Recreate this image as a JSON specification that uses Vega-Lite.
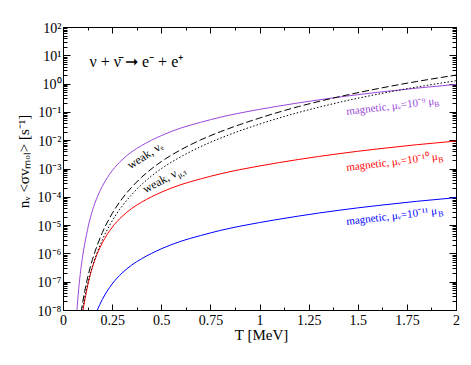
{
  "$schema": "https://vega.github.io/schema/vega-lite/v6.json",
  "width": 393,
  "height": 283,
  "autosize": {"type": "none"},
  "padding": {"left": 63, "top": 27, "right": 15, "bottom": 55},
  "background": "white",
  "config": {
    "view": {"stroke": "black", "strokeWidth": 1},
    "font": "Liberation Serif",
    "axis": {"domainColor": "black", "tickColor": "black", "labelColor": "black", "titleColor": "black", "labelFont": "Liberation Serif", "titleFont": "Liberation Serif", "grid": false, "titleFontWeight": "normal", "tickWidth": 1, "domainWidth": 1}
  },
  "datasets": {
    "curves": [
      {"s": "m9", "T": 0.07, "v": 7.94e-9}, {"s": "m9", "T": 0.075, "v": 2.24e-8}, {"s": "m9", "T": 0.08, "v": 5.62e-8}, {"s": "m9", "T": 0.09, "v": 2.51e-7}, {"s": "m9", "T": 0.1, "v": 7.94e-7}, {"s": "m9", "T": 0.11, "v": 2.09e-6}, {"s": "m9", "T": 0.12, "v": 4.79e-6}, {"s": "m9", "T": 0.13, "v": 1.0e-5}, {"s": "m9", "T": 0.14, "v": 1.91e-5}, {"s": "m9", "T": 0.15, "v": 3.31e-5}, {"s": "m9", "T": 0.175, "v": 1.0e-4}, {"s": "m9", "T": 0.2, "v": 2.34e-4}, {"s": "m9", "T": 0.25, "v": 8.32e-4}, {"s": "m9", "T": 0.3, "v": 2.0e-3}, {"s": "m9", "T": 0.35, "v": 3.89e-3}, {"s": "m9", "T": 0.4, "v": 6.46e-3}, {"s": "m9", "T": 0.5, "v": 1.45e-2}, {"s": "m9", "T": 0.6, "v": 2.69e-2}, {"s": "m9", "T": 0.7, "v": 4.27e-2}, {"s": "m9", "T": 0.8, "v": 6.46e-2}, {"s": "m9", "T": 0.9, "v": 9.12e-2}, {"s": "m9", "T": 1.0, "v": 0.123}, {"s": "m9", "T": 1.2, "v": 0.209}, {"s": "m9", "T": 1.4, "v": 0.331}, {"s": "m9", "T": 1.6, "v": 0.49}, {"s": "m9", "T": 1.8, "v": 0.692}, {"s": "m9", "T": 2.0, "v": 0.933},
      {"s": "m10", "T": 0.09, "v": 2.51e-9}, {"s": "m10", "T": 0.1, "v": 7.94e-9}, {"s": "m10", "T": 0.11, "v": 2.09e-8}, {"s": "m10", "T": 0.12, "v": 4.79e-8}, {"s": "m10", "T": 0.13, "v": 1.0e-7}, {"s": "m10", "T": 0.14, "v": 1.91e-7}, {"s": "m10", "T": 0.15, "v": 3.31e-7}, {"s": "m10", "T": 0.175, "v": 1.0e-6}, {"s": "m10", "T": 0.2, "v": 2.34e-6}, {"s": "m10", "T": 0.25, "v": 8.32e-6}, {"s": "m10", "T": 0.3, "v": 2.0e-5}, {"s": "m10", "T": 0.35, "v": 3.89e-5}, {"s": "m10", "T": 0.4, "v": 6.46e-5}, {"s": "m10", "T": 0.5, "v": 1.45e-4}, {"s": "m10", "T": 0.6, "v": 2.69e-4}, {"s": "m10", "T": 0.7, "v": 4.27e-4}, {"s": "m10", "T": 0.8, "v": 6.46e-4}, {"s": "m10", "T": 0.9, "v": 9.12e-4}, {"s": "m10", "T": 1.0, "v": 1.23e-3}, {"s": "m10", "T": 1.2, "v": 2.09e-3}, {"s": "m10", "T": 1.4, "v": 3.31e-3}, {"s": "m10", "T": 1.6, "v": 4.9e-3}, {"s": "m10", "T": 1.8, "v": 6.92e-3}, {"s": "m10", "T": 2.0, "v": 9.33e-3},
      {"s": "m11", "T": 0.15, "v": 3.31e-9}, {"s": "m11", "T": 0.175, "v": 1.0e-8}, {"s": "m11", "T": 0.2, "v": 2.34e-8}, {"s": "m11", "T": 0.25, "v": 8.32e-8}, {"s": "m11", "T": 0.3, "v": 2.0e-7}, {"s": "m11", "T": 0.35, "v": 3.89e-7}, {"s": "m11", "T": 0.4, "v": 6.46e-7}, {"s": "m11", "T": 0.5, "v": 1.45e-6}, {"s": "m11", "T": 0.6, "v": 2.69e-6}, {"s": "m11", "T": 0.7, "v": 4.27e-6}, {"s": "m11", "T": 0.8, "v": 6.46e-6}, {"s": "m11", "T": 0.9, "v": 9.12e-6}, {"s": "m11", "T": 1.0, "v": 1.23e-5}, {"s": "m11", "T": 1.2, "v": 2.09e-5}, {"s": "m11", "T": 1.4, "v": 3.31e-5}, {"s": "m11", "T": 1.6, "v": 4.9e-5}, {"s": "m11", "T": 1.8, "v": 6.92e-5}, {"s": "m11", "T": 2.0, "v": 9.33e-5},
      {"s": "we", "T": 0.085, "v": 3.69e-9}, {"s": "we", "T": 0.09, "v": 6.53e-9}, {"s": "we", "T": 0.1, "v": 1.8e-8}, {"s": "we", "T": 0.11, "v": 4.4e-8}, {"s": "we", "T": 0.12, "v": 9.6e-8}, {"s": "we", "T": 0.13, "v": 1.9e-7}, {"s": "we", "T": 0.14, "v": 3.5e-7}, {"s": "we", "T": 0.15, "v": 6.1e-7}, {"s": "we", "T": 0.175, "v": 2.0e-6}, {"s": "we", "T": 0.2, "v": 5.4e-6}, {"s": "we", "T": 0.25, "v": 2.55e-5}, {"s": "we", "T": 0.3, "v": 8.4e-5}, {"s": "we", "T": 0.35, "v": 2.2e-4}, {"s": "we", "T": 0.4, "v": 4.9e-4}, {"s": "we", "T": 0.5, "v": 1.75e-3}, {"s": "we", "T": 0.6, "v": 4.6e-3}, {"s": "we", "T": 0.7, "v": 1.02e-2}, {"s": "we", "T": 0.8, "v": 1.98e-2}, {"s": "we", "T": 0.9, "v": 3.55e-2}, {"s": "we", "T": 1.0, "v": 6.05e-2}, {"s": "we", "T": 1.2, "v": 0.155}, {"s": "we", "T": 1.4, "v": 0.337}, {"s": "we", "T": 1.6, "v": 0.659}, {"s": "we", "T": 1.8, "v": 1.186}, {"s": "we", "T": 2.0, "v": 1.995},
      {"s": "wm", "T": 0.085, "v": 2.2e-9}, {"s": "wm", "T": 0.09, "v": 3.9e-9}, {"s": "wm", "T": 0.1, "v": 1.07e-8}, {"s": "wm", "T": 0.11, "v": 2.6e-8}, {"s": "wm", "T": 0.12, "v": 5.6e-8}, {"s": "wm", "T": 0.13, "v": 1.1e-7}, {"s": "wm", "T": 0.14, "v": 2.0e-7}, {"s": "wm", "T": 0.15, "v": 3.45e-7}, {"s": "wm", "T": 0.175, "v": 1.12e-6}, {"s": "wm", "T": 0.2, "v": 3.0e-6}, {"s": "wm", "T": 0.25, "v": 1.4e-5}, {"s": "wm", "T": 0.3, "v": 4.6e-5}, {"s": "wm", "T": 0.35, "v": 1.2e-4}, {"s": "wm", "T": 0.4, "v": 2.7e-4}, {"s": "wm", "T": 0.5, "v": 9.8e-4}, {"s": "wm", "T": 0.6, "v": 2.6e-3}, {"s": "wm", "T": 0.7, "v": 5.9e-3}, {"s": "wm", "T": 0.8, "v": 1.17e-2}, {"s": "wm", "T": 0.9, "v": 2.15e-2}, {"s": "wm", "T": 1.0, "v": 3.7e-2}, {"s": "wm", "T": 1.2, "v": 0.096}, {"s": "wm", "T": 1.4, "v": 0.213}, {"s": "wm", "T": 1.6, "v": 0.42}, {"s": "wm", "T": 1.8, "v": 0.755}, {"s": "wm", "T": 2.0, "v": 1.259}
    ],
    "notes": [
      {"k": "rx", "T": 0.135, "v": 3.87, "t": "ν + ν̄ ➞ e⁻ + e⁺", "sub": ""},
      {"k": "we", "T": 0.343, "v": 9.2e-4, "t": "weak, νₑ", "sub": ""},
      {"k": "wm", "T": 0.42, "v": 1.3e-4, "t": "weak, ν", "sub": "μ,τ"},
      {"k": "m9", "s": "m9", "T": 1.444, "v": 0.0776, "t": "magnetic, μᵥ=10⁻⁹ μ", "sub": "B"},
      {"k": "m10", "s": "m10", "T": 1.444, "v": 8.13e-4, "t": "magnetic, μᵥ=10⁻¹⁰ μ", "sub": "B"},
      {"k": "m11", "s": "m11", "T": 1.444, "v": 1.0e-5, "t": "magnetic, μᵥ=10⁻¹¹ μ", "sub": "B"}
    ]
  },
  "resolve": {"axis": {"x": "independent", "y": "independent"}},
  "layer": [
    {
      "data": {"name": "curves"},
      "transform": [{"filter": "datum.s == 'm9' || datum.s == 'm10' || datum.s == 'm11'"}],
      "mark": {"type": "line", "clip": true, "strokeWidth": 1, "interpolate": "monotone"},
      "encoding": {
        "x": {"field": "T", "type": "quantitative", "scale": {"domain": [0, 2], "nice": false, "zero": false},
          "axis": {"orient": "bottom", "values": [0, 0.125, 0.25, 0.375, 0.5, 0.625, 0.75, 0.875, 1, 1.125, 1.25, 1.375, 1.5, 1.625, 1.75, 1.875, 2],
            "format": ".2~f", "labelExpr": "abs(datum.value*4 - round(datum.value*4)) < 0.001 ? datum.label : ''",
            "tickSize": {"condition": {"test": "abs(datum.value*4 - round(datum.value*4)) < 0.001", "value": -6}, "value": -3},
            "labelPadding": 9, "labelFontSize": 14, "labelOverlap": false, "labelFlush": false,
            "title": "T  [MeV]", "titleFontSize": 15, "titleX": 198, "titleY": 24, "titleAlign": "center", "titleBaseline": "middle"}},
        "y": {"field": "v", "type": "quantitative", "scale": {"type": "log", "domain": [1e-8, 100], "nice": false},
          "axis": {"orient": "left",
            "values": [1e-8,2e-8,3e-8,4e-8,5e-8,6e-8,7e-8,8e-8,9e-8,1e-7,2e-7,3e-7,4e-7,5e-7,6e-7,7e-7,8e-7,9e-7,1e-6,2e-6,3e-6,4e-6,5e-6,6e-6,7e-6,8e-6,9e-6,1e-5,2e-5,3e-5,4e-5,5e-5,6e-5,7e-5,8e-5,9e-5,1e-4,2e-4,3e-4,4e-4,5e-4,6e-4,7e-4,8e-4,9e-4,1e-3,2e-3,3e-3,4e-3,5e-3,6e-3,7e-3,8e-3,9e-3,0.01,0.02,0.03,0.04,0.05,0.06,0.07,0.08,0.09,0.1,0.2,0.3,0.4,0.5,0.6,0.7,0.8,0.9,1,2,3,4,5,6,7,8,9,10,20,30,40,50,60,70,80,90,100],
            "labelExpr": "abs(log(datum.value)/LN10 - round(log(datum.value)/LN10)) < 0.01 ? ['10⁻⁸','10⁻⁷','10⁻⁶','10⁻⁵','10⁻⁴','10⁻³','10⁻²','10⁻¹','10⁰','10¹','10²'][round(log(datum.value)/LN10) + 8] : ''",
            "tickSize": {"condition": {"test": "abs(log(datum.value)/LN10 - round(log(datum.value)/LN10)) < 0.01", "value": -7}, "value": -4},
            "labelPadding": 9, "labelFontSize": 14, "labelOverlap": false, "labelFlush": false, "labelBaseline": "middle", "labelOffset": 1,
            "title": "nᵥ <σvₘₒₗ>  [s⁻¹]", "titleFontSize": 15, "titleAngle": -90, "titleX": -40, "titleY": 134, "titleAlign": "center", "titleBaseline": "middle"}},
        "color": {"field": "s", "type": "nominal", "scale": {"domain": ["m9", "m10", "m11"], "range": ["#9a48dc", "#ff0000", "#0000ff"]}, "legend": null}
      }
    },
    {
      "data": {"name": "curves"},
      "transform": [{"filter": "datum.s == 'we'"}],
      "mark": {"type": "line", "clip": true, "strokeWidth": 1, "color": "black", "strokeDash": [7, 3], "interpolate": "monotone"},
      "encoding": {
        "x": {"field": "T", "type": "quantitative",
          "axis": {"orient": "top", "values": [0, 0.125, 0.25, 0.375, 0.5, 0.625, 0.75, 0.875, 1, 1.125, 1.25, 1.375, 1.5, 1.625, 1.75, 1.875, 2], "labels": false, "title": null,
            "tickSize": {"condition": {"test": "abs(datum.value*4 - round(datum.value*4)) < 0.001", "value": -6}, "value": -3}}},
        "y": {"field": "v", "type": "quantitative",
          "axis": {"orient": "right", "labels": false, "title": null,
            "values": [1e-8,2e-8,3e-8,4e-8,5e-8,6e-8,7e-8,8e-8,9e-8,1e-7,2e-7,3e-7,4e-7,5e-7,6e-7,7e-7,8e-7,9e-7,1e-6,2e-6,3e-6,4e-6,5e-6,6e-6,7e-6,8e-6,9e-6,1e-5,2e-5,3e-5,4e-5,5e-5,6e-5,7e-5,8e-5,9e-5,1e-4,2e-4,3e-4,4e-4,5e-4,6e-4,7e-4,8e-4,9e-4,1e-3,2e-3,3e-3,4e-3,5e-3,6e-3,7e-3,8e-3,9e-3,0.01,0.02,0.03,0.04,0.05,0.06,0.07,0.08,0.09,0.1,0.2,0.3,0.4,0.5,0.6,0.7,0.8,0.9,1,2,3,4,5,6,7,8,9,10,20,30,40,50,60,70,80,90,100],
            "tickSize": {"condition": {"test": "abs(log(datum.value)/LN10 - round(log(datum.value)/LN10)) < 0.01", "value": -7}, "value": -4}}}
      }
    },
    {
      "data": {"name": "curves"},
      "transform": [{"filter": "datum.s == 'wm'"}],
      "mark": {"type": "line", "clip": true, "strokeWidth": 1, "color": "black", "strokeDash": [1.5, 2], "interpolate": "monotone"},
      "encoding": {
        "x": {"field": "T", "type": "quantitative", "axis": null},
        "y": {"field": "v", "type": "quantitative", "axis": null}
      }
    },
    {
      "data": {"name": "notes"},
      "transform": [{"filter": "datum.k == 'rx'"}],
      "mark": {"type": "text", "align": "left", "baseline": "alphabetic", "fontSize": 16, "color": "black"},
      "encoding": {
        "x": {"field": "T", "type": "quantitative", "axis": null},
        "y": {"field": "v", "type": "quantitative", "axis": null},
        "text": {"field": "t"}
      }
    },
    {
      "data": {"name": "notes"},
      "transform": [{"filter": "datum.k == 'we'"}],
      "mark": {"type": "text", "align": "left", "baseline": "alphabetic", "fontSize": 12, "color": "black", "angle": -33},
      "encoding": {
        "x": {"field": "T", "type": "quantitative", "axis": null},
        "y": {"field": "v", "type": "quantitative", "axis": null},
        "text": {"field": "t"}
      }
    },
    {
      "data": {"name": "notes"},
      "transform": [{"filter": "datum.k == 'wm'"}],
      "mark": {"type": "text", "align": "left", "baseline": "alphabetic", "fontSize": 12, "color": "black", "angle": -29},
      "encoding": {
        "x": {"field": "T", "type": "quantitative", "axis": null},
        "y": {"field": "v", "type": "quantitative", "axis": null},
        "text": {"field": "t"}
      }
    },
    {
      "data": {"name": "notes"},
      "transform": [{"filter": "datum.k == 'wm'"}],
      "mark": {"type": "text", "align": "left", "baseline": "alphabetic", "fontSize": 8, "color": "black", "angle": -29, "dx": 37, "dy": 3},
      "encoding": {
        "x": {"field": "T", "type": "quantitative", "axis": null},
        "y": {"field": "v", "type": "quantitative", "axis": null},
        "text": {"field": "sub"}
      }
    },
    {
      "data": {"name": "notes"},
      "transform": [{"filter": "datum.k == 'm9' || datum.k == 'm10' || datum.k == 'm11'"}],
      "mark": {"type": "text", "align": "left", "baseline": "alphabetic", "fontSize": 11, "angle": -7},
      "encoding": {
        "x": {"field": "T", "type": "quantitative", "axis": null},
        "y": {"field": "v", "type": "quantitative", "axis": null},
        "text": {"field": "t"},
        "color": {"field": "s", "type": "nominal", "legend": null}
      }
    },
    {
      "data": {"name": "notes"},
      "transform": [{"filter": "datum.k == 'm9'"}],
      "mark": {"type": "text", "align": "left", "baseline": "alphabetic", "fontSize": 8, "angle": -7, "dx": 88, "dy": 3},
      "encoding": {
        "x": {"field": "T", "type": "quantitative", "axis": null},
        "y": {"field": "v", "type": "quantitative", "axis": null},
        "text": {"field": "sub"},
        "color": {"field": "s", "type": "nominal", "legend": null}
      }
    },
    {
      "data": {"name": "notes"},
      "transform": [{"filter": "datum.k == 'm10' || datum.k == 'm11'"}],
      "mark": {"type": "text", "align": "left", "baseline": "alphabetic", "fontSize": 8, "angle": -7, "dx": 92, "dy": 3},
      "encoding": {
        "x": {"field": "T", "type": "quantitative", "axis": null},
        "y": {"field": "v", "type": "quantitative", "axis": null},
        "text": {"field": "sub"},
        "color": {"field": "s", "type": "nominal", "legend": null}
      }
    }
  ]
}
